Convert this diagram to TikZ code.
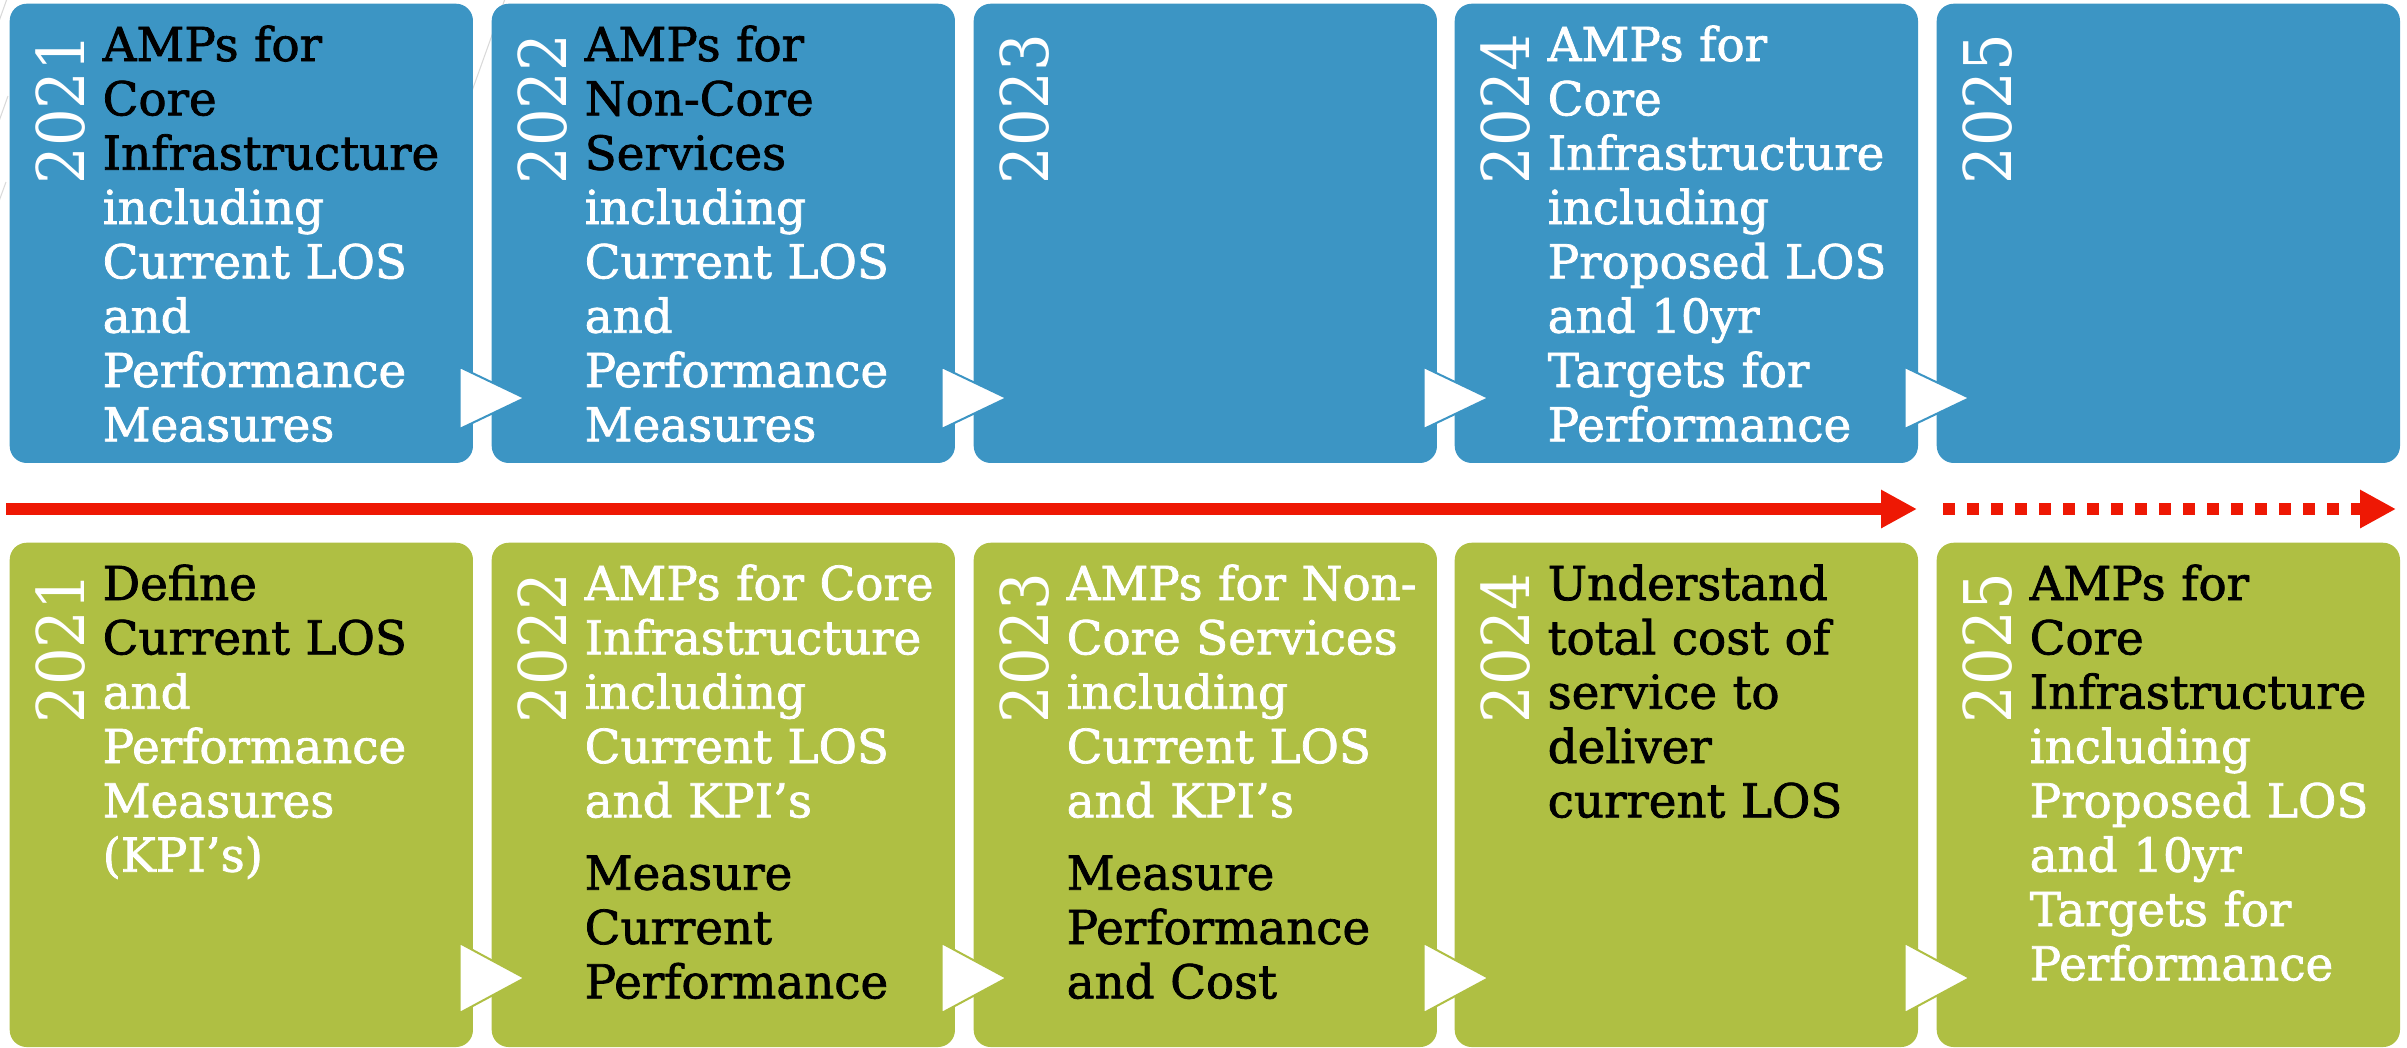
\documentclass[tikz,border=0pt]{standalone}
\usepackage{fontspec}
\setmainfont{DejaVu Serif}[FakeBold=1.6]
\newfontfamily\yearfont{DejaVu Serif Condensed}
\usetikzlibrary{arrows.meta}
\definecolor{boxblue}{RGB}{60,149,196}
\definecolor{boxgreen}{RGB}{175,191,67}
\definecolor{linered}{RGB}{238,24,4}
\begin{document}
\begin{tikzpicture}[x=0.01cm,y=-0.01cm,
    bluebox/.style={fill=boxblue,rounded corners=0.17cm,minimum width=4.63cm,minimum height=4.59cm,anchor=north west,inner sep=0pt},
    greenbox/.style={fill=boxgreen,rounded corners=0.17cm,minimum width=4.63cm,minimum height=5.04cm,anchor=north west,inner sep=0pt},
    yeartext/.style={text=white,rotate=90,anchor=base east,inner sep=0pt,font=\yearfont\fontsize{18.7}{20}\selectfont},
    bodytext/.style={anchor=base west,inner sep=0pt,text width=3.65cm,align=left,font=\fontsize{13.3}{15.45}\selectfont},
    bluetri/.style={fill=white,draw=boxblue,line width=0.02cm},
    greentri/.style={fill=white,draw=boxgreen,line width=0.02cm},
    redline/.style={draw=linered,line width=0.12cm}]
    \useasboundingbox (0,0) rectangle (2407,1047);
    % фон
    \draw[gray!30,line width=0.3pt] (8,-4) -- (-2,24);
    \draw[gray!30,line width=0.3pt] (8,96) -- (-2,124);
    \draw[gray!30,line width=0.3pt] (6,182) -- (-2,204);
    \draw[gray!30,line width=0.3pt] (506,-4) -- (472,91);

    % верхний ряд
    \node[bluebox] (t1) at (9,3) {};
    \node[bluebox] (t2) at (491,3) {};
    \node[bluebox] (t3) at (973,3) {};
    \node[bluebox] (t4) at (1454,3) {};
    \node[bluebox] (t5) at (1936,3) {};

    % нижний ряд
    \node[greenbox] (b1) at (9,542) {};
    \node[greenbox] (b2) at (491,542) {};
    \node[greenbox] (b3) at (973,542) {};
    \node[greenbox] (b4) at (1454,542) {};
    \node[greenbox] (b5) at (1936,542) {};

    % треугольники
    \filldraw[bluetri] ([shift={(-14,364)}]t1.north east) -- ([shift={(51,395)}]t1.north east) -- ([shift={(-14,426)}]t1.north east) -- cycle;
    \filldraw[bluetri] ([shift={(-14,364)}]t2.north east) -- ([shift={(51,395)}]t2.north east) -- ([shift={(-14,426)}]t2.north east) -- cycle;
    \filldraw[bluetri] ([shift={(-14,364)}]t3.north east) -- ([shift={(51,395)}]t3.north east) -- ([shift={(-14,426)}]t3.north east) -- cycle;
    \filldraw[bluetri] ([shift={(-14,364)}]t4.north east) -- ([shift={(51,395)}]t4.north east) -- ([shift={(-14,426)}]t4.north east) -- cycle;
    \filldraw[greentri] ([shift={(-14,401)}]b1.north east) -- ([shift={(51,436)}]b1.north east) -- ([shift={(-14,471)}]b1.north east) -- cycle;
    \filldraw[greentri] ([shift={(-14,401)}]b2.north east) -- ([shift={(51,436)}]b2.north east) -- ([shift={(-14,471)}]b2.north east) -- cycle;
    \filldraw[greentri] ([shift={(-14,401)}]b3.north east) -- ([shift={(51,436)}]b3.north east) -- ([shift={(-14,471)}]b3.north east) -- cycle;
    \filldraw[greentri] ([shift={(-14,401)}]b4.north east) -- ([shift={(51,436)}]b4.north east) -- ([shift={(-14,471)}]b4.north east) -- cycle;

    % годы
    \node[yeartext] (y1t) at ([shift={(75,30)}]t1.north west) {2021};
    \node[yeartext] (y2t) at ([shift={(75,30)}]t2.north west) {2022};
    \node[yeartext] (y3t) at ([shift={(75,30)}]t3.north west) {2023};
    \node[yeartext] (y4t) at ([shift={(75,30)}]t4.north west) {2024};
    \node[yeartext] (y5t) at ([shift={(75,30)}]t5.north west) {2025};
    \node[yeartext] (y1b) at ([shift={(75,30)}]b1.north west) {2021};
    \node[yeartext] (y2b) at ([shift={(75,30)}]b2.north west) {2022};
    \node[yeartext] (y3b) at ([shift={(75,30)}]b3.north west) {2023};
    \node[yeartext] (y4b) at ([shift={(75,30)}]b4.north west) {2024};
    \node[yeartext] (y5b) at ([shift={(75,30)}]b5.north west) {2025};

    % тексты
    \node[bodytext] (x1t) at ([shift={(93,58)}]t1.north west) {AMPs for\\Core\\Infrastructure\\\color{white}including\\Current LOS\\and\\Performance\\Measures};
    \node[bodytext] (x2t) at ([shift={(93,58)}]t2.north west) {AMPs for\\Non-Core\\Services\\\color{white}including\\Current LOS\\and\\Performance\\Measures};
    \node[bodytext,text=white] (x4t) at ([shift={(93,58)}]t4.north west) {AMPs for\\Core\\Infrastructure\\including\\Proposed LOS\\and 10yr\\Targets for\\Performance};
    \node[bodytext] (x1b) at ([shift={(93,58)}]b1.north west) {Define\\Current LOS\\\color{white}and\\Performance\\Measures\\(KPI’s)};
    \node[bodytext] (x2b) at ([shift={(93,58)}]b2.north west) {\color{white}AMPs for Core\\Infrastructure\\including\\Current LOS\\and KPI’s\\[0.18cm]\color{black}Measure\\Current\\Performance};
    \node[bodytext] (x3b) at ([shift={(93,58)}]b3.north west) {\color{white}AMPs for Non-\\Core Services\\including\\Current LOS\\and KPI’s\\[0.18cm]\color{black}Measure\\Performance\\and Cost};
    \node[bodytext] (x4b) at ([shift={(93,58)}]b4.north west) {Understand\\total cost of\\service to\\deliver\\current LOS};
    \node[bodytext] (x5b) at ([shift={(93,58)}]b5.north west) {AMPs for\\Core\\Infrastructure\\\color{white}including\\Proposed LOS\\and 10yr\\Targets for\\Performance};

    % стрелка
    \coordinate (a0) at (6,509);
    \coordinate (a1) at (1917,509);
    \coordinate (a2) at (1943,509);
    \coordinate (a3) at (2396,509);
    \draw[redline,-{Triangle[length=0.36cm,width=0.36cm]}] (a0) -- (a1);
    \draw[redline,dash pattern=on 0.12cm off 0.12cm,-{Triangle[length=0.36cm,width=0.36cm]}] (a2) -- (a3);
\end{tikzpicture}
\end{document}
